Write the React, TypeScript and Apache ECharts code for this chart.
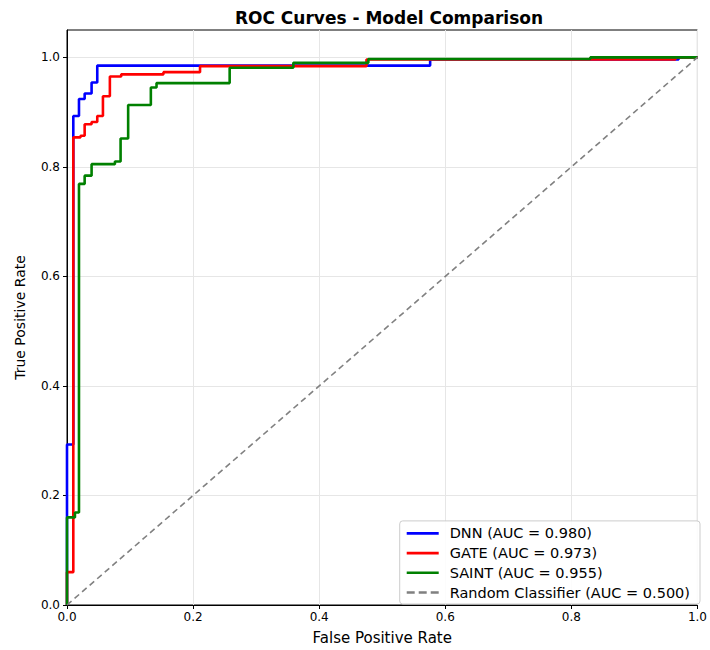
import React, { useEffect, useRef } from "react";
import * as echarts from "echarts";

const dnnFpr = [0, 0, 0.01, 0.01, 0.019, 0.019, 0.028, 0.028, 0.039, 0.039, 0.048, 0.048, 0.576, 0.576, 0.97, 0.97, 1];
const dnnTpr = [0, 0.293, 0.293, 0.893, 0.893, 0.924, 0.924, 0.934, 0.934, 0.954, 0.954, 0.985, 0.985, 0.996, 0.996, 1, 1];

const gateFpr = [0, 0, 0.01, 0.01, 0.0215, 0.0215, 0.028, 0.028, 0.039, 0.039, 0.048, 0.048, 0.057, 0.057, 0.068, 0.068, 0.086, 0.086, 0.153, 0.153, 0.211, 0.211, 0.475, 0.475, 0.965, 0.965, 1];
const gateTpr = [0, 0.06, 0.06, 0.854, 0.854, 0.857, 0.857, 0.878, 0.878, 0.882, 0.882, 0.893, 0.893, 0.929, 0.929, 0.965, 0.965, 0.969, 0.969, 0.973, 0.973, 0.984, 0.984, 0.996, 0.996, 1, 1];

const saintFpr = [0, 0, 0.0126, 0.0126, 0.019, 0.019, 0.028, 0.028, 0.039, 0.039, 0.076, 0.076, 0.085, 0.085, 0.097, 0.097, 0.133, 0.133, 0.142, 0.142, 0.258, 0.258, 0.359, 0.359, 0.478, 0.478, 0.83, 0.83, 1];
const saintTpr = [0, 0.16, 0.16, 0.169, 0.169, 0.769, 0.769, 0.784, 0.784, 0.805, 0.805, 0.81, 0.81, 0.852, 0.852, 0.913, 0.913, 0.945, 0.945, 0.953, 0.953, 0.981, 0.981, 0.99, 0.99, 0.997, 0.997, 1, 1];

const randomFpr = [0, 1];
const randomTpr = [0, 1];

const seriesNames = [
  "DNN (AUC = 0.980)",
  "GATE (AUC = 0.973)",
  "SAINT (AUC = 0.955)",
  "Random Classifier (AUC = 0.500)",
];
const tickValues = [0, 0.2, 0.4, 0.6, 0.8, 1.0];

const FONT = "DejaVu Sans";
const SOLID_ICON = "path://M0,0H32V2.6H0Z";
const DASH_ICON = "path://M0,0H8V2.6H0Z M12,0H20V2.6H12Z M24,0H32V2.6H24Z";

function pairs(xs: number[], ys: number[]) {
  return xs.map((x, i) => [x, ys[i]]);
}

export default function App() {
  const ref = useRef<HTMLDivElement>(null);
  useEffect(() => {
    if (!ref.current) return;
    const chart = echarts.init(ref.current, null, { renderer: "svg" });
    const axisCommon = {
      type: "value" as const,
      min: 0,
      interval: 0.2,
      axisLine: { show: true, lineStyle: { color: "#000", width: 1 } },
      axisTick: { show: true, length: 4, customValues: tickValues, lineStyle: { color: "#000" } },
      axisLabel: {
        customValues: tickValues,
        color: "#000",
        fontSize: 12,
        fontFamily: FONT,
        formatter: (v: number) => v.toFixed(1),
      },
      splitLine: { show: true, lineStyle: { color: "#e6e6e6", width: 1 } },
      nameLocation: "middle" as const,
    };
    chart.setOption({
      animation: false,
      backgroundColor: "#fff",
      title: {
        text: "ROC Curves - Model Comparison",
        left: 384,
        textAlign: "center",
        top: 4,
        textStyle: { fontSize: 17, fontWeight: "bold", fontFamily: FONT, color: "#000" },
      },
      grid: {
        left: 67,
        right: 9,
        top: 30,
        bottom: 42,
        show: true,
        borderColor: "#000",
        borderWidth: 1,
        backgroundColor: "transparent",
      },
      xAxis: {
        ...axisCommon,
        max: 1,
        name: "False Positive Rate",
        nameGap: 25,
        nameTextStyle: { color: "#000", fontSize: 15, fontFamily: FONT },
        axisLabel: { ...axisCommon.axisLabel, margin: 6 },
      },
      yAxis: {
        ...axisCommon,
        max: 1.05,
        name: "True Positive Rate",
        nameGap: 40,
        nameTextStyle: { color: "#000", fontSize: 14, fontFamily: FONT },
        axisLabel: { ...axisCommon.axisLabel, margin: 7 },
      },
      legend: {
        orient: "vertical",
        right: 10,
        bottom: 46,
        data: [
          { name: seriesNames[0], icon: SOLID_ICON },
          { name: seriesNames[1], icon: SOLID_ICON },
          { name: seriesNames[2], icon: SOLID_ICON },
          { name: seriesNames[3], icon: DASH_ICON },
        ],
        itemWidth: 32,
        itemHeight: 2.6,
        itemGap: 4.7,
        padding: [5, 10, 4, 7],
        borderColor: "#cccccc",
        borderWidth: 1,
        borderRadius: 3,
        backgroundColor: "rgba(255,255,255,0.85)",
        textStyle: { fontSize: 14.5, lineHeight: 14, fontFamily: FONT, color: "#000", padding: [0, 0, 0, 6] },
      },
      series: [
        {
          name: seriesNames[0],
          type: "line",
          data: pairs(dnnFpr, dnnTpr),
          showSymbol: false,
          symbol: "none",
          lineStyle: { color: "#0000ff", width: 2.6 },
          itemStyle: { color: "#0000ff" },
        },
        {
          name: seriesNames[1],
          type: "line",
          data: pairs(gateFpr, gateTpr),
          showSymbol: false,
          symbol: "none",
          lineStyle: { color: "#ff0000", width: 2.6 },
          itemStyle: { color: "#ff0000" },
        },
        {
          name: seriesNames[2],
          type: "line",
          data: pairs(saintFpr, saintTpr),
          showSymbol: false,
          symbol: "none",
          lineStyle: { color: "#008000", width: 2.6 },
          itemStyle: { color: "#008000" },
        },
        {
          name: seriesNames[3],
          type: "line",
          data: pairs(randomFpr, randomTpr),
          showSymbol: false,
          symbol: "none",
          lineStyle: { color: "#808080", width: 1.6, type: [6, 4] },
          itemStyle: { color: "#808080" },
        },
      ],
    });
    return () => chart.dispose();
  }, []);
  return (
    <div
      ref={ref}
      style={{ position: "absolute", left: 0, top: 0, width: 710, height: 650 }}
    />
  );
}
